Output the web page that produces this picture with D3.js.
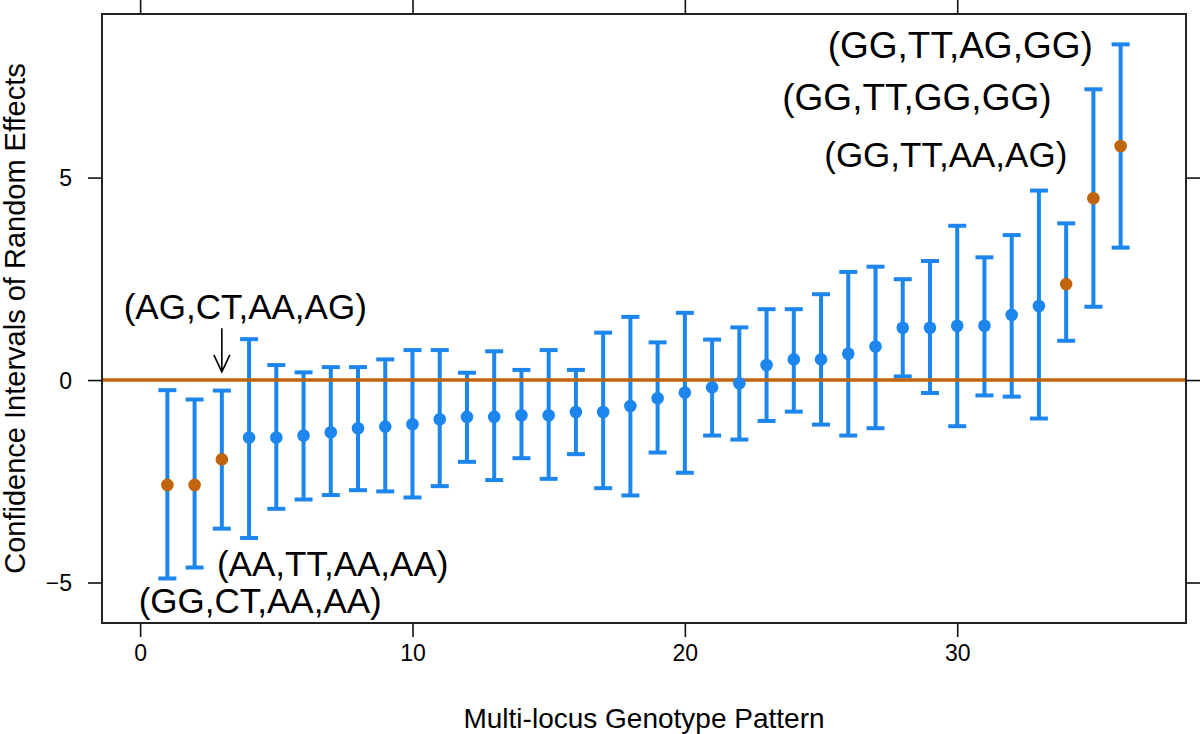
<!DOCTYPE html>
<html>
<head>
<meta charset="utf-8">
<script src="https://cdn.jsdelivr.net/npm/d3@7"></script>
<style>
  html, body { margin: 0; padding: 0; background: #fff; }
  svg text { font-family: "Liberation Sans", Arial, sans-serif; fill: #000; }
</style>
</head>
<body>
<svg id="chart" width="1200" height="734"></svg>
<script>
// ---- data ----
const patternIndex = d3.range(1, 37);
const estimates = [-2.59,-2.59,-1.96,-1.42,-1.42,-1.37,-1.29,-1.19,-1.15,-1.09,-0.97,-0.91,-0.91,-0.87,-0.87,-0.79,-0.79,-0.64,-0.45,-0.31,-0.18,-0.08,0.37,0.51,0.51,0.65,0.83,1.29,1.29,1.34,1.34,1.61,1.83,2.37,4.49,5.78];
const lowerCI = [-4.90,-4.63,-3.67,-3.90,-3.18,-2.95,-2.84,-2.72,-2.75,-2.90,-2.62,-2.02,-2.47,-1.93,-2.44,-1.83,-2.67,-2.85,-1.79,-2.29,-1.37,-1.47,-1.01,-0.78,-1.10,-1.37,-1.19,0.09,-0.32,-1.14,-0.38,-0.41,-0.95,0.97,1.81,3.27];
const upperCI = [-0.25,-0.48,-0.26,1.01,0.37,0.19,0.32,0.32,0.51,0.74,0.74,0.18,0.71,0.25,0.74,0.25,1.17,1.56,0.93,1.66,1.00,1.30,1.75,1.75,2.12,2.67,2.80,2.49,2.94,3.81,3.03,3.58,4.68,3.87,7.18,8.29];
const highlighted = [1, 2, 3, 34, 35, 36];

const xTicks = [0, 10, 20, 30];
const yTicks = [-5, 0, 5];

const labelTexts = ["(GG,TT,AG,GG)", "(GG,TT,GG,GG)", "(GG,TT,AA,AG)", "(AG,CT,AA,AG)", "(AA,TT,AA,AA)", "(GG,CT,AA,AA)"];
const labelX = [30.11, 28.52, 29.58, 3.86, 7.07, 4.41];
const labelY = [8.21, 6.91, 5.49, 1.75, -4.60, -5.53];

const arrowX = 3;
const arrowFrom = 1.28;
const arrowTo = 0.20;

const xTitle = "Multi-locus Genotype Pattern";
const yTitle = "Confidence Intervals of Random Effects";

// ---- layout ----
const plot = { left: 102, right: 1186, top: 14, bottom: 623 };
const blue = "#1c86ee";
const orange = "#c0640e";
const labelFontSizes = [37, 37, 35, 35, 35, 35];

const x = d3.scaleLinear().domain([-1.4, 38.4]).range([plot.left, plot.right]);
const y = d3.scaleLinear().domain([-6.0, 9.04]).range([plot.bottom, plot.top]);

const svg = d3.select("#chart");

const data = patternIndex.map((p, i) => ({
  p, est: estimates[i], lo: lowerCI[i], hi: upperCI[i], hl: highlighted.includes(p)
}));

// axes (ticks on all four sides, labels only left and bottom)
const tickLen = 14;
const axB = d3.axisBottom(x).tickValues(xTicks).tickSize(tickLen).tickPadding(8).tickFormat(d3.format("d"));
const axT = d3.axisTop(x).tickValues(xTicks).tickSize(tickLen).tickFormat("");
const axL = d3.axisLeft(y).tickValues(yTicks).tickSize(tickLen).tickPadding(16).tickFormat(d3.format("d"));
const axR = d3.axisRight(y).tickValues(yTicks).tickSize(tickLen).tickFormat("");

function styleAxis(g) {
  g.select(".domain").remove();
  g.selectAll(".tick line").attr("stroke", "#111").attr("stroke-width", 1.6);
  g.selectAll(".tick text").style("font-size", "23px").attr("fill", "#111");
}

svg.append("g").attr("transform", `translate(0,${plot.bottom})`).call(axB).call(styleAxis);
svg.append("g").attr("transform", `translate(0,${plot.top})`).call(axT).call(styleAxis);
svg.append("g").attr("transform", `translate(${plot.left},0)`).call(axL).call(styleAxis)
  .selectAll(".tick text").attr("dy", "0.36em");
svg.append("g").attr("transform", `translate(${plot.right},0)`).call(axR).call(styleAxis);

// frame
svg.append("rect")
  .attr("x", plot.left).attr("y", plot.top)
  .attr("width", plot.right - plot.left).attr("height", plot.bottom - plot.top)
  .attr("fill", "none").attr("stroke", "#222").attr("stroke-width", 2);

// error bars
const capHalf = 9;
const bars = svg.append("g").attr("stroke", blue).attr("stroke-width", 4).attr("fill", "none");
bars.selectAll("line.v").data(data).join("line").attr("class", "v")
  .attr("x1", d => x(d.p)).attr("x2", d => x(d.p))
  .attr("y1", d => y(d.lo)).attr("y2", d => y(d.hi));
bars.selectAll("line.top").data(data).join("line").attr("class", "top")
  .attr("x1", d => x(d.p) - capHalf).attr("x2", d => x(d.p) + capHalf)
  .attr("y1", d => y(d.hi)).attr("y2", d => y(d.hi));
bars.selectAll("line.bot").data(data).join("line").attr("class", "bot")
  .attr("x1", d => x(d.p) - capHalf).attr("x2", d => x(d.p) + capHalf)
  .attr("y1", d => y(d.lo)).attr("y2", d => y(d.lo));

// zero reference line
svg.append("line")
  .attr("x1", plot.left + 1).attr("x2", plot.right - 1)
  .attr("y1", y(0)).attr("y2", y(0))
  .attr("stroke", orange).attr("stroke-width", 3.5);

// point estimates
svg.append("g").selectAll("circle").data(data).join("circle")
  .attr("cx", d => x(d.p)).attr("cy", d => y(d.est)).attr("r", 6.3)
  .attr("fill", d => d.hl ? orange : blue);

// annotation labels
svg.append("g").selectAll("text").data(labelTexts).join("text")
  .attr("x", (d, i) => x(labelX[i])).attr("y", (d, i) => y(labelY[i]))
  .attr("dy", "0.27em")
  .attr("text-anchor", "middle")
  .style("font-size", (d, i) => labelFontSizes[i] + "px")
  .text(d => d);

// arrow
const ax = x(arrowX), ay1 = y(arrowFrom), ay2 = y(arrowTo);
svg.append("path")
  .attr("d", `M${ax},${ay1}L${ax},${ay2}M${ax - 8},${ay2 - 17}L${ax},${ay2}L${ax + 8},${ay2 - 17}`)
  .attr("fill", "none").attr("stroke", "#000").attr("stroke-width", 1.6);

// axis titles
svg.append("text")
  .attr("x", (plot.left + plot.right) / 2).attr("y", 728)
  .attr("text-anchor", "middle").style("font-size", "28px").attr("fill", "#222")
  .text(xTitle);
svg.append("text")
  .attr("transform", `translate(25,${(plot.top + plot.bottom) / 2}) rotate(-90)`)
  .attr("text-anchor", "middle").style("font-size", "29px").attr("fill", "#222")
  .text(yTitle);
</script>
</body>
</html>
